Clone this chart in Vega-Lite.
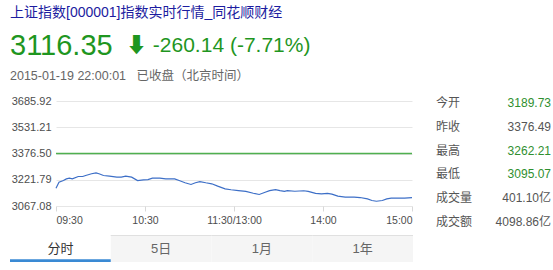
{
  "$schema": "https://vega.github.io/schema/vega-lite/v6.json",
  "background": "#ffffff",
  "padding": {"left": 10, "top": 6, "right": 0, "bottom": 0},
  "bounds": "full",
  "columns": 1,
  "spacing": 6,
  "config": {
    "view": {"stroke": null},
    "font": "Liberation Sans, Noto Sans CJK SC, DejaVu Sans"
  },
  "concat": [
    {
      "width": 116,
      "height": 76,
      "data": {
        "values": [
          {"kind": "link", "text": "上证指数[000001]指数实时行情_同花顺财经"},
          {"kind": "last", "text": "3116.35"},
          {"kind": "change", "text": "⬇ -260.14 (-7.71%)"},
          {"kind": "stamp", "text": "2015-01-19 22:00:01\u00a0\u00a0\u00a0已收盘（北京时间）"}
        ]
      },
      "encoding": {
        "y": {"type": "nominal", "scale": {"type": "point", "domain": ["title", "quote", "status"], "padding": 0.216, "align": 0}, "axis": null}
      },
      "layer": [
        {
          "transform": [{"filter": "datum.kind == 'link'"}],
          "mark": {"type": "text", "align": "left", "baseline": "middle", "fontSize": 14, "color": "#1c1ca0"},
          "encoding": {
            "x": {"datum": "lead", "type": "nominal", "scale": {"type": "point", "domain": ["lead", "tail"], "padding": 0}, "axis": null},
            "y": {"datum": "title", "type": "nominal", "axis": null},
            "text": {"field": "text"}
          }
        },
        {
          "transform": [{"filter": "datum.kind == 'last'"}],
          "mark": {"type": "text", "align": "left", "baseline": "middle", "fontSize": 29, "color": "#1f961f", "dy": 2},
          "encoding": {
            "x": {"datum": "lead", "type": "nominal", "axis": null},
            "y": {"datum": "quote", "type": "nominal", "axis": null},
            "text": {"field": "text"}
          }
        },
        {
          "transform": [{"filter": "datum.kind == 'change'"}],
          "mark": {"type": "text", "align": "left", "baseline": "middle", "fontSize": 21, "color": "#1f961f", "dy": 2},
          "encoding": {
            "x": {"datum": "tail", "type": "nominal", "axis": null},
            "y": {"datum": "quote", "type": "nominal", "axis": null},
            "text": {"field": "text"}
          }
        },
        {
          "transform": [{"filter": "datum.kind == 'stamp'"}],
          "mark": {"type": "text", "align": "left", "baseline": "middle", "fontSize": 12.5, "color": "#666666"},
          "encoding": {
            "x": {"datum": "lead", "type": "nominal", "axis": null},
            "y": {"datum": "status", "type": "nominal", "axis": null},
            "text": {"field": "text"}
          }
        }
      ]
    },
    {
      "spacing": 0.001,
      "bounds": "full",
      "hconcat": [
        {
          "width": 0.001,
          "height": 0.001,
          "data": {"values": []},
          "mark": {"type": "point", "opacity": 0},
          "encoding": {}
        },
        {
          "spacing": 21,
          "bounds": "full",
          "hconcat": [
            {
              "width": 356,
              "height": 105,
              "layer": [
                {
                  "data": {
                    "values": [
                      {"min": 0, "price": 3172}, {"min": 2, "price": 3207}, {"min": 5, "price": 3217},
                      {"min": 7, "price": 3227}, {"min": 9, "price": 3231}, {"min": 11, "price": 3227},
                      {"min": 15, "price": 3241}, {"min": 18, "price": 3241}, {"min": 20, "price": 3247},
                      {"min": 24, "price": 3257}, {"min": 27, "price": 3262.21}, {"min": 29, "price": 3257},
                      {"min": 32, "price": 3247}, {"min": 36, "price": 3243}, {"min": 41, "price": 3237},
                      {"min": 44, "price": 3237}, {"min": 47, "price": 3243}, {"min": 51, "price": 3237},
                      {"min": 55, "price": 3217}, {"min": 59, "price": 3221}, {"min": 62, "price": 3223},
                      {"min": 65, "price": 3231}, {"min": 70, "price": 3231}, {"min": 74, "price": 3227},
                      {"min": 80, "price": 3227}, {"min": 83, "price": 3217}, {"min": 87, "price": 3204},
                      {"min": 91, "price": 3194}, {"min": 94, "price": 3204}, {"min": 97, "price": 3211},
                      {"min": 101, "price": 3204}, {"min": 105, "price": 3198}, {"min": 109, "price": 3184},
                      {"min": 114, "price": 3168}, {"min": 118, "price": 3163}, {"min": 123, "price": 3158},
                      {"min": 128, "price": 3153}, {"min": 133, "price": 3142}, {"min": 137, "price": 3135},
                      {"min": 141, "price": 3148}, {"min": 144, "price": 3158}, {"min": 148, "price": 3164},
                      {"min": 151, "price": 3158}, {"min": 154, "price": 3153}, {"min": 156, "price": 3158},
                      {"min": 161, "price": 3154}, {"min": 167, "price": 3157}, {"min": 170, "price": 3153},
                      {"min": 175, "price": 3142}, {"min": 179, "price": 3139}, {"min": 183, "price": 3142},
                      {"min": 186, "price": 3137}, {"min": 190, "price": 3125}, {"min": 195, "price": 3119},
                      {"min": 201, "price": 3119}, {"min": 205, "price": 3117}, {"min": 210, "price": 3109},
                      {"min": 213, "price": 3099.5}, {"min": 216, "price": 3095.07}, {"min": 220, "price": 3099.5},
                      {"min": 223, "price": 3109}, {"min": 226, "price": 3113}, {"min": 231, "price": 3113},
                      {"min": 235, "price": 3113}, {"min": 240, "price": 3116.35}
                    ]
                  },
                  "mark": {"type": "line", "color": "#3d6fc7", "strokeWidth": 1.2, "interpolate": "linear"},
                  "encoding": {
                    "x": {
                      "field": "min",
                      "type": "quantitative",
                      "scale": {"domain": [0, 240], "nice": false, "zero": false},
                      "axis": {
                        "values": [0, 60, 120, 180, 240],
                        "tickCount": 10,
                        "labelExpr": "datum.value == 0 ? '09:30' : datum.value == 60 ? '10:30' : datum.value == 120 ? '11:30/13:00' : datum.value == 180 ? '14:00' : '15:00'",
                        "title": null,
                        "domain": false,
                        "grid": false,
                        "ticks": true,
                        "tickSize": 5,
                        "tickColor": "#d8d8d8",
                        "labelFlush": true,
                        "labelOverlap": false,
                        "labelPadding": 4,
                        "labelFontSize": 10.5,
                        "labelColor": "#4d4d4d",
                        "labelFont": "Liberation Sans"
                      }
                    },
                    "y": {
                      "field": "price",
                      "type": "quantitative",
                      "scale": {"domain": [3067.08, 3685.92], "nice": false, "zero": false},
                      "axis": {
                        "values": [3067.08, 3221.79, 3376.5, 3531.21, 3685.92],
                        "tickCount": 10,
                        "format": ".2f",
                        "title": null,
                        "domain": false,
                        "ticks": false,
                        "labelOverlap": false,
                        "labelPadding": 5,
                        "labelFontSize": 11,
                        "labelColor": "#4d4d4d",
                        "labelFont": "Liberation Sans",
                        "gridColor": "#e6e6e6"
                      }
                    }
                  }
                },
                {
                  "data": {"values": [{"prevClose": 3376.49}]},
                  "mark": {"type": "rule", "strokeWidth": 1.5, "color": "#4fb04f", "opacity": 1},
                  "encoding": {
                    "y": {"field": "prevClose", "type": "quantitative"},
                    "color": {"value": "#4fb04f"}
                  }
                }
              ]
            },
            {
              "width": 115,
              "height": 123,
              "data": {
                "values": [
                  {"name": "今开", "value": "3189.73", "tone": "down"},
                  {"name": "昨收", "value": "3376.49", "tone": "flat"},
                  {"name": "最高", "value": "3262.21", "tone": "down"},
                  {"name": "最低", "value": "3095.07", "tone": "down"},
                  {"name": "成交量", "value": "401.10亿", "tone": "flat"},
                  {"name": "成交额", "value": "4098.86亿", "tone": "flat"}
                ]
              },
              "layer": [
                {
                  "mark": {"type": "text", "align": "left", "baseline": "middle", "fontSize": 12, "color": "#555555"},
                  "encoding": {
                    "x": {"datum": "name", "type": "nominal", "scale": {"type": "point", "domain": ["name", "value"], "padding": 0}, "axis": null},
                    "y": {"field": "name", "type": "nominal", "sort": null, "scale": {"type": "point", "padding": 0.075}, "axis": null},
                    "text": {"field": "name"}
                  }
                },
                {
                  "mark": {"type": "text", "align": "right", "baseline": "middle", "fontSize": 12},
                  "encoding": {
                    "x": {"datum": "value", "type": "nominal", "axis": null},
                    "y": {"field": "name", "type": "nominal", "sort": null, "axis": null},
                    "text": {"field": "value"},
                    "color": {
                      "field": "tone",
                      "type": "nominal",
                      "scale": {"domain": ["down", "flat"], "range": ["#2f8f2f", "#555555"]},
                      "legend": null
                    }
                  }
                }
              ]
            }
          ]
        }
      ]
    },
    {
      "width": 403,
      "height": 27,
      "data": {
        "values": [
          {"tab": "分时", "state": "active"},
          {"tab": "5日", "state": "idle"},
          {"tab": "1月", "state": "idle"},
          {"tab": "1年", "state": "idle"}
        ]
      },
      "layer": [
        {
          "mark": {"type": "rect"},
          "encoding": {
            "x": {"field": "tab", "type": "nominal", "sort": null, "scale": {"type": "band", "paddingInner": 0, "paddingOuter": 0}, "axis": null},
            "color": {"condition": {"test": "datum.state == 'active'", "value": "#ffffff"}, "value": "#f5f5f5"}
          }
        },
        {
          "transform": [{"filter": "datum.state == 'idle'"}],
          "mark": {"type": "rect", "color": "#e0e0e0"},
          "encoding": {
            "x": {"field": "tab", "type": "nominal", "sort": null, "axis": null},
            "y": {"datum": 1, "type": "quantitative", "scale": {"domain": [0, 1], "nice": false}, "axis": null},
            "y2": {"datum": 0.96}
          }
        },
        {
          "transform": [{"filter": "datum.state == 'active'"}],
          "mark": {"type": "rect", "color": "#3a8ad4"},
          "encoding": {
            "x": {"field": "tab", "type": "nominal", "sort": null, "axis": null},
            "y": {"datum": 0, "type": "quantitative", "axis": null},
            "y2": {"datum": 0.1}
          }
        },
        {
          "mark": {"type": "text", "align": "center", "baseline": "middle", "fontSize": 13},
          "encoding": {
            "x": {"field": "tab", "type": "nominal", "sort": null, "axis": null},
            "text": {"field": "tab"},
            "color": {"condition": {"test": "datum.state == 'active'", "value": "#333333"}, "value": "#666666"}
          }
        }
      ]
    }
  ]
}
